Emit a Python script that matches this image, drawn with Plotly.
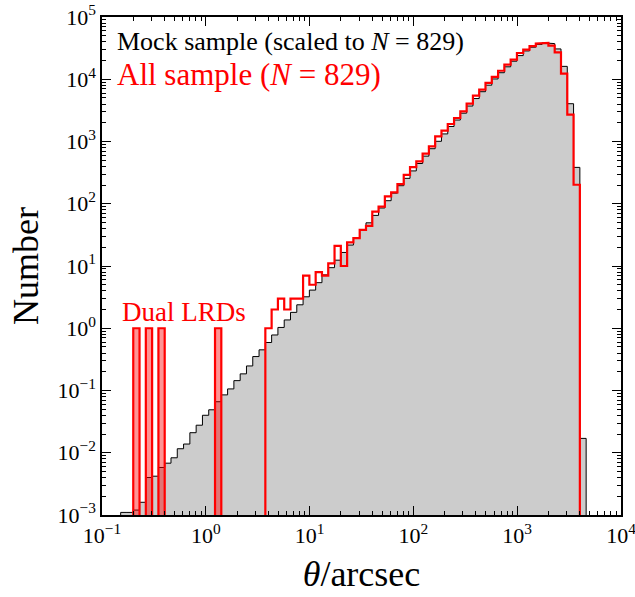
import numpy as np
import plotly.graph_objects as go

# ---------------- data ----------------
# log-spaced bins: left edge of bin 0 at 0.2 arcsec, constant width in dex
BIN0_LEFT_ARCSEC = 0.2
BIN_WIDTH_DEX = 0.0606

# Mock sample (scaled to N = 829): values for bins -2 ... 71
mock_first_bin = -2
mock_values = [
    1.1e-3, 1.1e-3, 1.2e-3, 1.6e-3, 4.0e-3, 4.2e-3, 5.8e-3, 6.8e-3, 8.3e-3, 1.16e-2,
    1.38e-2, 2.1e-2, 2.77e-2, 4.0e-2, 4.9e-2, 6.6e-2, 8.5e-2, 0.106, 0.144, 0.185,
    0.248, 0.351, 0.45, 0.59, 0.78, 1.03, 1.36, 1.8, 2.38, 3.2,
    4.1, 5.4, 7.2, 9.4, 12.4, 16.5, 21.7, 28.6, 37.6, 49.4,
    65, 85.5, 112, 148, 195, 256, 337, 443, 582, 766,
    1007, 1324, 1742, 2213, 2851, 3715, 4898, 6310, 8035, 10116,
    12735, 15849, 19498, 23988, 28510, 32734, 36308, 38459, 37411, 30690,
    16106, 4046, 384, 0.017,
]

# All sample (N = 829): counts for bins 0 ... 70
all_first_bin = 0
all_counts = [
    1, 0, 1, 0, 1, 0, 0, 0, 0, 0,
    0, 0, 0, 1, 0, 0, 0, 0, 0, 0,
    0, 1, 2, 3, 2, 3, 3, 7, 5, 8,
    7, 11, 21, 10, 24, 28, 38, 44, 75, 90,
    131, 152, 207, 292, 389, 479, 637, 834, 1208, 1492,
    1910, 2387, 3050, 4053, 5450, 6800, 8720, 10900, 13700, 17200,
    20700, 26400, 29900, 34000, 37400, 38300, 34700, 27000, 12300, 2700,
    202,
]

# bins holding the dual LRDs
dual_lrd_bins = [0, 2, 4, 13]

x_decades = [-1, 0, 1, 2, 3, 4]
y_decades = [-3, -2, -1, 0, 1, 2, 3, 4, 5]

# ---------------------------------------------------------------
FLOOR = 1e-6  # below the axis range, used for the bottom of the steps


def edge(k):
    return BIN0_LEFT_ARCSEC * 10 ** (BIN_WIDTH_DEX * k)


def step_path(first_bin, values):
    xs, ys = [edge(first_bin)], [FLOOR]
    for i, v in enumerate(values):
        k = first_bin + i
        val = v if v > 0 else FLOOR
        xs += [edge(k), edge(k + 1)]
        ys += [val, val]
    xs.append(edge(first_bin + len(values)))
    ys.append(FLOOR)
    return xs, ys


fig = go.Figure()

# mock sample: grey filled step histogram with black outline
mx, my = step_path(mock_first_bin, mock_values)
fig.add_trace(go.Scatter(
    x=mx, y=my, mode="lines", fill="toself", fillcolor="#cccccc",
    line=dict(color="black", width=1), hoverinfo="skip", showlegend=False,
))

# dual LRD bins: translucent red fill
for b in dual_lrd_bins:
    v = all_counts[b - all_first_bin]
    fig.add_trace(go.Scatter(
        x=[edge(b), edge(b), edge(b + 1), edge(b + 1), edge(b)],
        y=[FLOOR, v, v, FLOOR, FLOOR],
        mode="lines", fill="toself", fillcolor="rgba(255,0,0,0.42)",
        line=dict(width=0), hoverinfo="skip", showlegend=False,
    ))

# all sample: red step outline
ax_, ay_ = step_path(all_first_bin, all_counts)
fig.add_trace(go.Scatter(
    x=ax_, y=ay_, mode="lines", line=dict(color="red", width=2.2),
    hoverinfo="skip", showlegend=False,
))


def powlab(n):
    return "10<sup>" + (("\u2212" + str(-n)) if n < 0 else str(n)) + "</sup>"


def minor_vals(decs):
    out = []
    for d in decs[:-1]:
        for m in range(2, 10):
            out.append(m * 10.0 ** d)
    return out


FONT = "Liberation Serif"
axis_common = dict(
    type="log", showline=True, linecolor="black", linewidth=1.5,
    mirror="allticks", ticks="inside", ticklen=9, tickwidth=1.4,
    tickcolor="black", showgrid=False, zeroline=False, automargin=False,
    ticklabeloverflow="allow",
    tickfont=dict(family=FONT, size=22, color="black"),
)

fig.update_xaxes(
    **axis_common,
    range=[-1, 4],
    tickmode="array",
    tickvals=[10.0 ** d for d in x_decades],
    ticktext=[powlab(d) for d in x_decades],
    minor=dict(tickmode="array", tickvals=minor_vals(x_decades), ticks="inside",
               ticklen=4.5, tickwidth=1, tickcolor="black", showgrid=False),
    title=dict(text="<i>θ</i>/arcsec", font=dict(family=FONT, size=36, color="black"),
               standoff=14),
)
fig.update_yaxes(
    **axis_common,
    range=[-3, 5],
    tickmode="array",
    tickvals=[10.0 ** d for d in y_decades],
    ticktext=[powlab(d) for d in y_decades],
    minor=dict(tickmode="array", tickvals=minor_vals(y_decades), ticks="inside",
               ticklen=4.5, tickwidth=1, tickcolor="black", showgrid=False),
    title=dict(text="Number", font=dict(family=FONT, size=36, color="black"),
               standoff=8),
)

fig.add_annotation(
    xref="paper", yref="paper", x=0.026, y=0.95, xanchor="left", yanchor="middle",
    text="Mock sample (scaled to <i>N</i> = 829)", showarrow=False,
    font=dict(family=FONT, size=26, color="black"),
)
fig.add_annotation(
    xref="paper", yref="paper", x=0.026, y=0.884, xanchor="left", yanchor="middle",
    text="All sample (<i>N</i> = 829)", showarrow=False,
    font=dict(family=FONT, size=31, color="red"),
)
fig.add_annotation(
    xref="paper", yref="paper", x=0.034, y=0.408, xanchor="left", yanchor="middle",
    text="Dual LRDs", showarrow=False,
    font=dict(family=FONT, size=27, color="red"),
)

fig.update_layout(
    width=635, height=597,
    margin=dict(l=102, r=14, t=17, b=82, autoexpand=False),
    plot_bgcolor="white", paper_bgcolor="white",
    font=dict(family=FONT, color="black"),
)

fig.write_html("out.html", config={"displayModeBar": False},
               post_script="document.body.style.margin='0px';")
